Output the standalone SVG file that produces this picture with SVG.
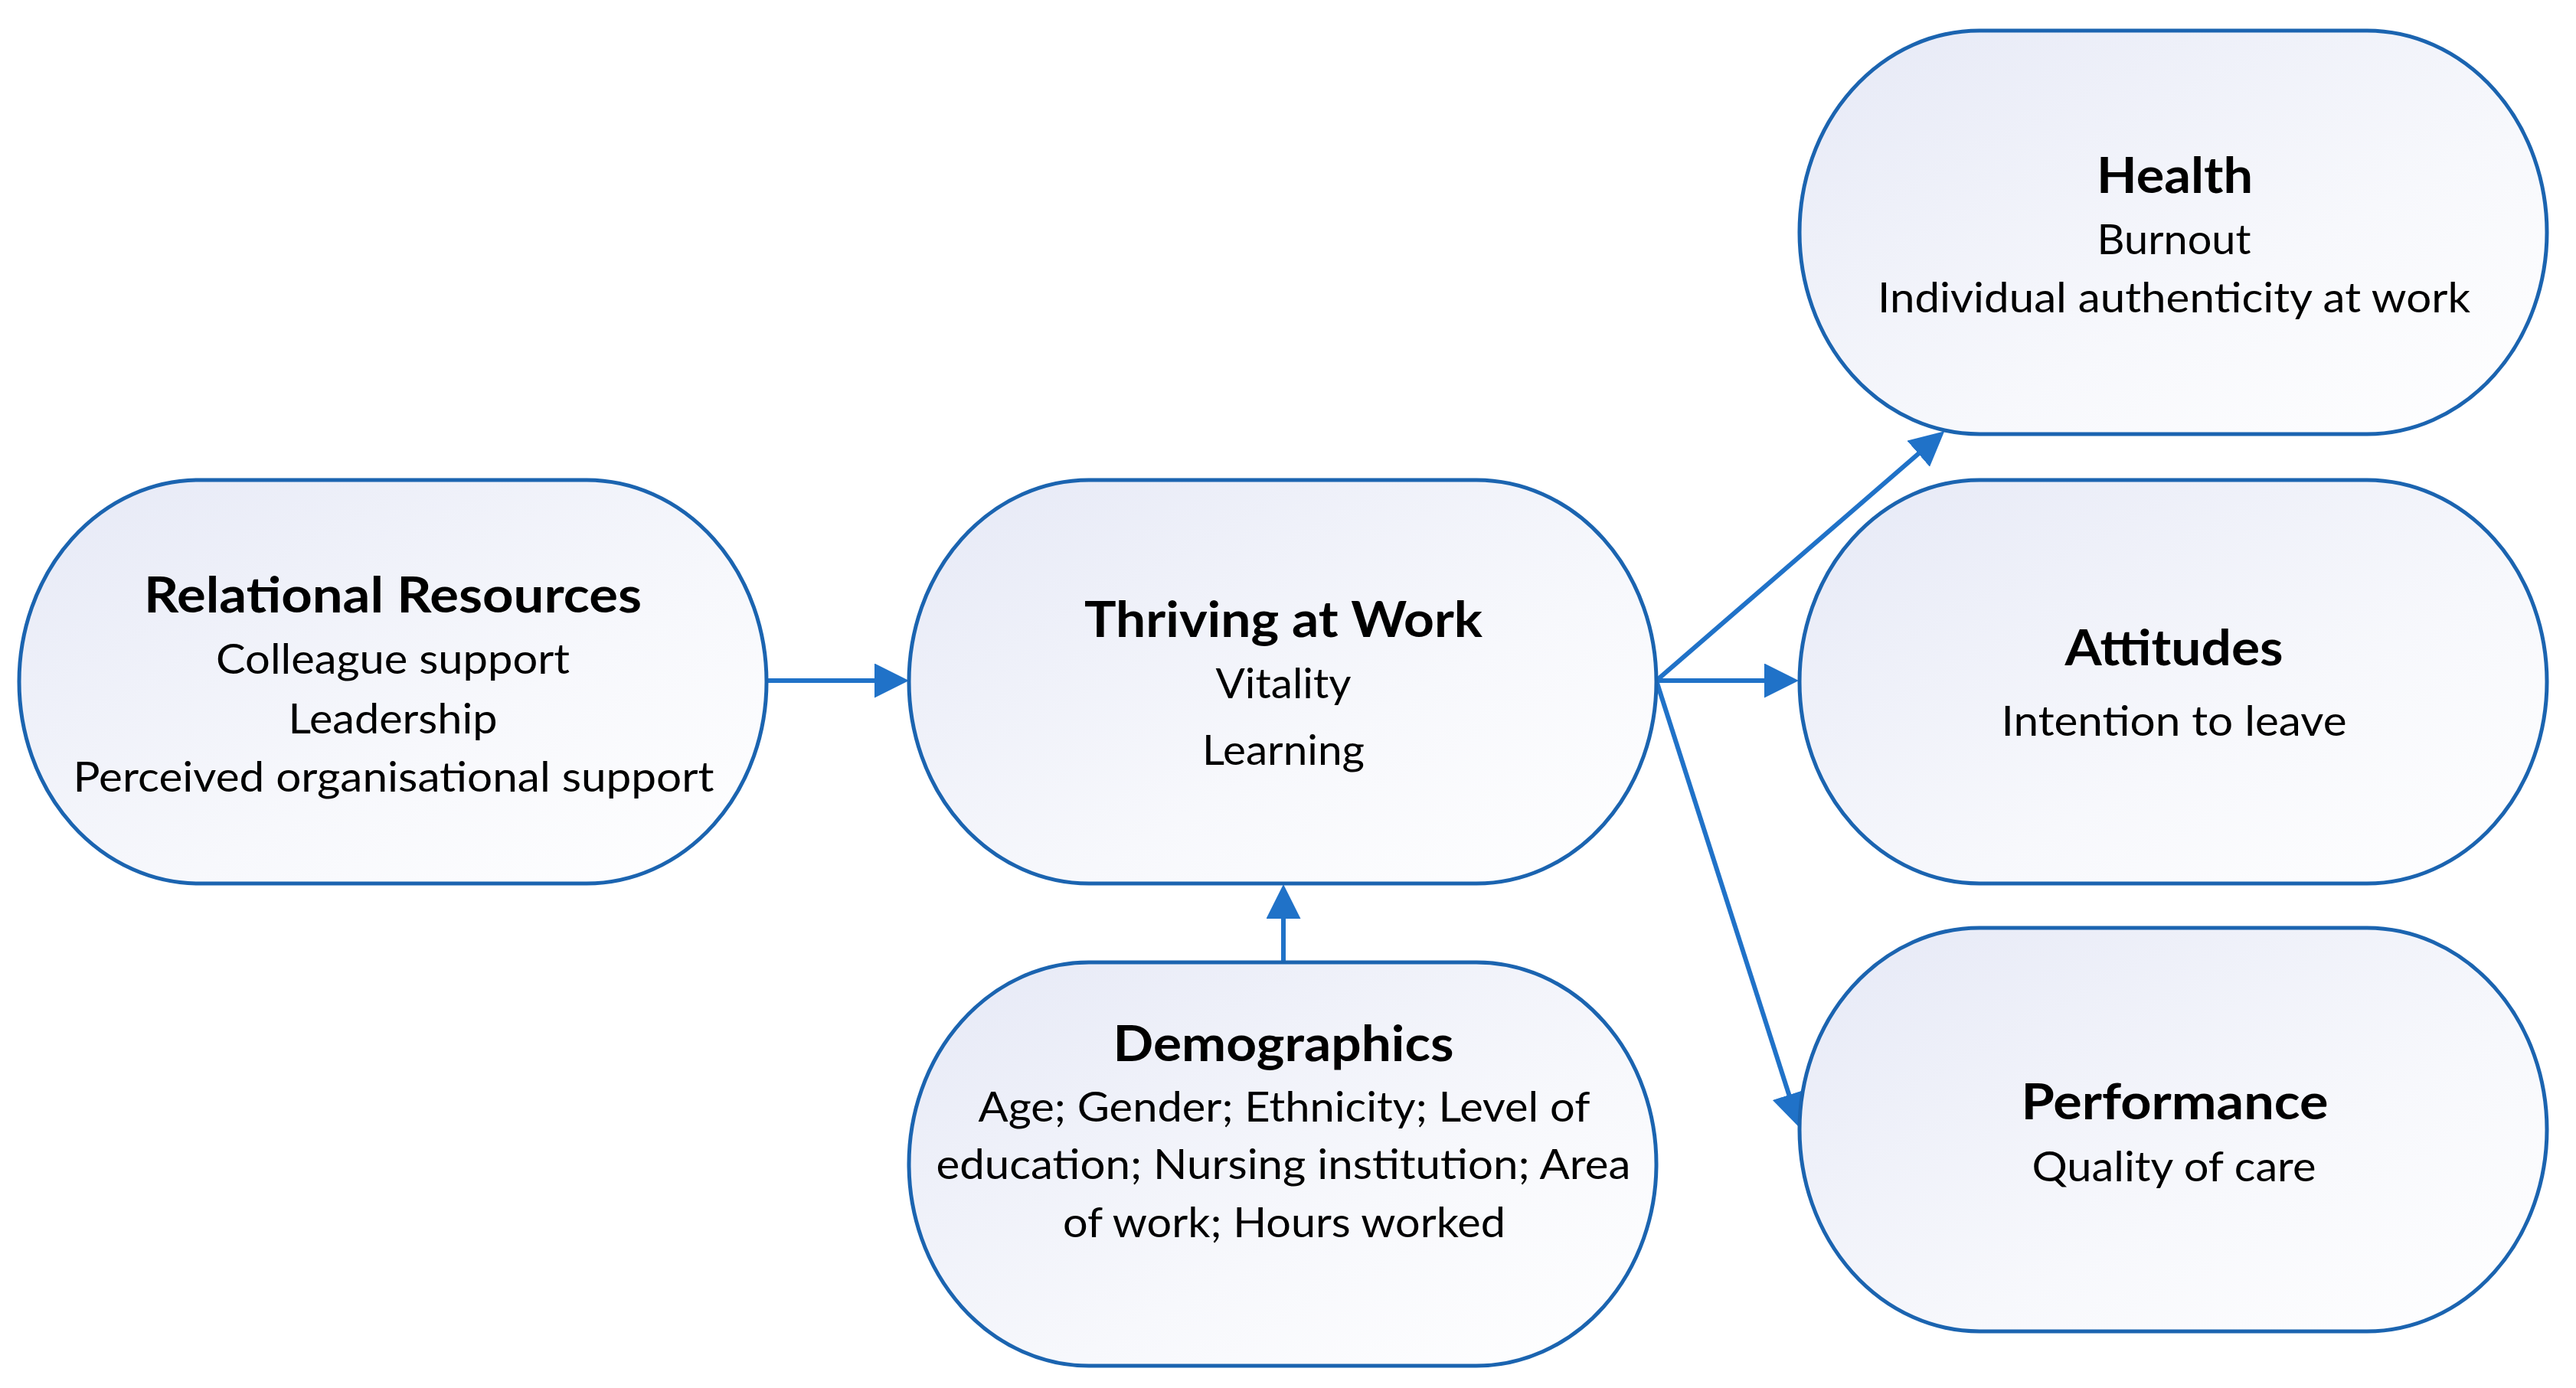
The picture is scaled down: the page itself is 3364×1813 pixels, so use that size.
<svg xmlns="http://www.w3.org/2000/svg" width="3364" height="1813" viewBox="0 0 3364 1813">
<style>
.node{fill:url(#g);stroke:#1b64b0;stroke-width:5}
.t{font-family:Lato,"Open Sans","Liberation Sans",sans-serif;font-weight:bold;font-size:65px;fill:#000;text-anchor:middle}
.s{font-family:Lato,"Open Sans","Liberation Sans",sans-serif;font-size:54px;fill:#000;text-anchor:middle}
.c{stroke:#2072c8;stroke-width:6;fill:none;marker-end:url(#a)}
</style>
<defs>
<linearGradient id="g" x1="0" y1="0" x2="1" y2="1">
<stop offset="0" stop-color="#e6e9f6"/>
<stop offset="0.6" stop-color="#f7f8fc"/>
<stop offset="1" stop-color="#ffffff"/>
</linearGradient>
<marker id="a" markerUnits="userSpaceOnUse" markerWidth="46" markerHeight="46" refX="1" refY="22.5" orient="auto" viewBox="0 0 46 46">
<path d="M0,0 L45,22.5 L0,45 Z" fill="#2072c8"/>
</marker>
</defs>
<rect width="3364" height="1813" fill="#fff"/>
<g id="connectors">
<line class="c" x1="1001" y1="889" x2="1143" y2="889"/>
<line class="c" x1="1676" y1="1257" x2="1676" y2="1199"/>
<line class="c" x1="2163" y1="889" x2="2305" y2="889"/>
<line class="c" x1="2163" y1="889" x2="2506" y2="592"/>
<line class="c" x1="2163" y1="889" x2="2336.6" y2="1431"/>
</g>
<g id="relational">
<rect class="node" x="25" y="627" width="976" height="527" rx="235" ry="263.5"/>
<text class="t" x="513" y="800" textLength="650" lengthAdjust="spacingAndGlyphs">Relational Resources</text>
<text class="s" x="513" y="880" textLength="462" lengthAdjust="spacingAndGlyphs">Colleague support</text>
<text class="s" x="513" y="958" textLength="273" lengthAdjust="spacingAndGlyphs">Leadership</text>
<text class="s" x="514" y="1034" textLength="837" lengthAdjust="spacingAndGlyphs">Perceived organisational support</text>
</g>
<g id="thriving">
<rect class="node" x="1187" y="627" width="976" height="527" rx="235" ry="263.5"/>
<text class="t" x="1676" y="832" textLength="520" lengthAdjust="spacingAndGlyphs">Thriving at Work</text>
<text class="s" x="1676" y="912" textLength="177" lengthAdjust="spacingAndGlyphs">Vitality</text>
<text class="s" x="1676" y="999" textLength="212" lengthAdjust="spacingAndGlyphs">Learning</text>
</g>
<g id="demographics">
<rect class="node" x="1187" y="1257" width="976" height="527" rx="235" ry="263.5"/>
<text class="t" x="1676" y="1386" textLength="445" lengthAdjust="spacingAndGlyphs">Demographics</text>
<text class="s" x="1677" y="1465" textLength="799" lengthAdjust="spacingAndGlyphs">Age; Gender; Ethnicity; Level of</text>
<text class="s" x="1676" y="1540" textLength="907" lengthAdjust="spacingAndGlyphs">education; Nursing institution; Area</text>
<text class="s" x="1677" y="1616" textLength="578" lengthAdjust="spacingAndGlyphs">of work; Hours worked</text>
</g>
<g id="health">
<rect class="node" x="2350" y="40" width="976" height="527" rx="235" ry="263.5"/>
<text class="t" x="2840" y="252" textLength="204" lengthAdjust="spacingAndGlyphs">Health</text>
<text class="s" x="2839" y="332" textLength="201" lengthAdjust="spacingAndGlyphs">Burnout</text>
<text class="s" x="2839" y="408" textLength="774" lengthAdjust="spacingAndGlyphs">Individual authenticity at work</text>
</g>
<g id="attitudes">
<rect class="node" x="2350" y="627" width="976" height="527" rx="235" ry="263.5"/>
<text class="t" x="2839" y="869" textLength="285" lengthAdjust="spacingAndGlyphs">Attitudes</text>
<text class="s" x="2839" y="961" textLength="451" lengthAdjust="spacingAndGlyphs">Intention to leave</text>
</g>
<g id="performance">
<rect class="node" x="2350" y="1212" width="976" height="527" rx="235" ry="263.5"/>
<text class="t" x="2840" y="1462" textLength="401" lengthAdjust="spacingAndGlyphs">Performance</text>
<text class="s" x="2839" y="1543" textLength="371" lengthAdjust="spacingAndGlyphs">Quality of care</text>
</g>
</svg>
